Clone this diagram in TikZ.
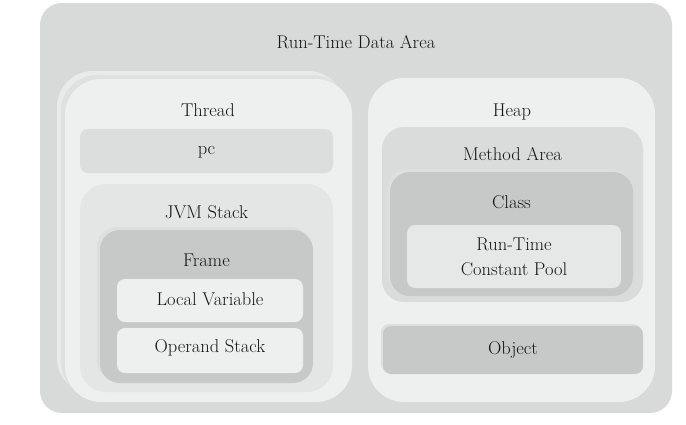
\documentclass[tikz,border=0pt]{standalone}
\definecolor{outerc}{HTML}{D8D9D9}
\definecolor{lightc}{HTML}{EEF0F0}
\definecolor{backa}{HTML}{E9EBEB}
\definecolor{backb}{HTML}{DFE1E1}
\definecolor{pcc}{HTML}{DCDDDD}
\definecolor{jvmc}{HTML}{E4E6E6}
\definecolor{darkc}{HTML}{C7C9C9}
\definecolor{rimc}{HTML}{DDDFDF}
\definecolor{methc}{HTML}{DADBDB}
\definecolor{poolc}{HTML}{E6E8E8}
\definecolor{txtc}{HTML}{151515}
\tikzset{
  box/.style={rounded corners=#1, inner sep=0pt, outer sep=0pt, draw=none, rectangle},
  lbl/.style={font=\fontsize{18.5}{25}\selectfont, text=txtc, inner sep=0pt, align=center}
}
\begin{document}
\begin{tikzpicture}[x=1pt,y=-1pt]
\useasboundingbox[fill=white] (0,0) rectangle (686,424);
% outer
\node[box=22, fill=outerc, minimum width=632pt, minimum height=410pt] (outer) at (356,208) {};
% thread stack
\node[box=36, fill=backa, minimum width=287pt, minimum height=323pt] (threadb2) at (200.5,232.5) {};
\node[box=36, fill=backb, minimum width=287pt, minimum height=323pt] (threadb1) at (204.5,236.5) {};
\node[box=36, fill=lightc, minimum width=287pt, minimum height=323pt] (thread) at (208.5,240.5) {};
\node[box=8, fill=pcc, minimum width=253pt, minimum height=44pt] (pc) at (206.5,151) {};
\node[box=26, fill=jvmc, minimum width=253pt, minimum height=208pt] (jvm) at (206.5,288) {};
\node[box=20, fill=rimc, minimum width=213pt, minimum height=153pt] (frameb) at (203.5,303.5) {};
\node[box=20, fill=darkc, minimum width=213pt, minimum height=153pt] (frame) at (206.5,306.5) {};
\node[box=8, fill=lightc, minimum width=186pt, minimum height=43pt] (local) at (210,300.5) {};
\node[box=8, fill=lightc, minimum width=186pt, minimum height=45pt] (operand) at (210,350.5) {};
% heap
\node[box=36, fill=lightc, minimum width=287pt, minimum height=324pt] (heap) at (511.5,240) {};
\node[box=22, fill=methc, minimum width=261pt, minimum height=175pt] (method) at (512.5,214.5) {};
\node[box=20, fill=rimc, minimum width=243pt, minimum height=124pt] (classb) at (508.5,231) {};
\node[box=20, fill=darkc, minimum width=243pt, minimum height=124pt] (class) at (511.5,234) {};
\node[box=8, fill=poolc, minimum width=214pt, minimum height=63pt] (pool) at (514,256.5) {};
\node[box=8, fill=rimc, minimum width=260pt, minimum height=48pt] (objectb) at (511,348) {};
\node[box=8, fill=darkc, minimum width=260pt, minimum height=48pt] (object) at (513,350) {};
% labels
\node[lbl] (toplbl) at (356,42) {Run-Time Data Area};
\node[lbl] (threadlbl) at (208,110) {Thread};
\node[lbl] (pclbl) at (206.5,152) {pc};
\node[lbl] (jvmlbl) at (206.5,212) {JVM Stack};
\node[lbl] (framelbl) at (206.5,260) {Frame};
\node[lbl] (locallbl) at (210,299) {Local Variable};
\node[lbl] (operandlbl) at (210,348) {Operand Stack};
\node[lbl] (heaplbl) at (512,112) {Heap};
\node[lbl] (methodlbl) at (512.5,154) {Method Area};
\node[lbl] (classlbl) at (511.5,202) {Class};
\node[lbl] (poollbl) at (514,257) {Run-Time\\Constant Pool};
\node[lbl] (objectlbl) at (513,350) {Object};
\end{tikzpicture}
\end{document}
